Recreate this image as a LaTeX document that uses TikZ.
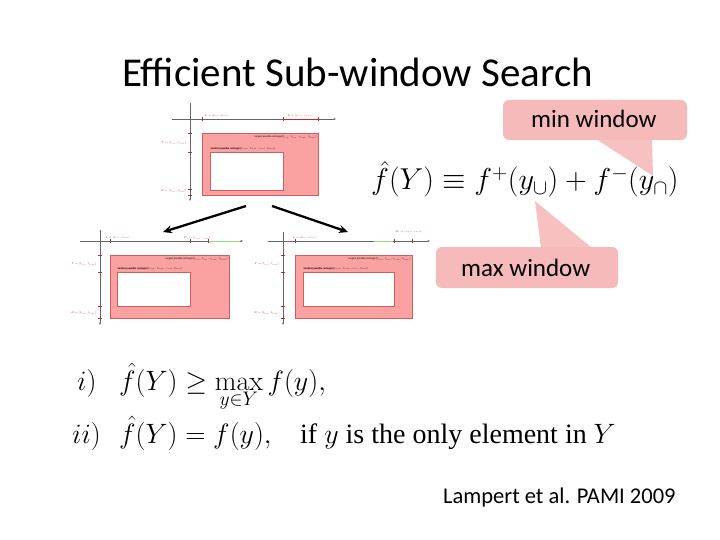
\RequirePackage{fix-cm}
\documentclass[tikz,border=0pt]{standalone}
\usepackage[no-math]{fontspec}
\setmainfont{Carlito}
\newfontfamily\timesf{Liberation Serif}
\usetikzlibrary{arrows.meta}
\definecolor{winred}{RGB}{250,162,162}
\definecolor{winedge}{RGB}{205,95,95}
\definecolor{callpink}{RGB}{246,186,186}
\definecolor{labred}{RGB}{190,40,40}
\definecolor{axgreen}{RGB}{150,220,120}
\tikzset{
  tinytext/.style={font=\fontsize{2.6}{3}\selectfont, inner sep=0.5pt},
  tinylab/.style={tinytext, text=labred},
  axisline/.style={draw=black!60, line width=0.5pt},
  bigred/.style={fill=winred, draw=winedge, line width=0.5pt},
  smallwhite/.style={fill=white, draw=winedge, line width=0.4pt},
  tickmark/.style={draw=labred, line width=0.4pt},
  splitarrow/.style={line width=2.3pt, -{Stealth[length=9pt,width=8pt]}},
  callbox/.style={fill=callpink, draw=none, rounded corners=6pt},
  calltext/.style={font=\fontsize{25}{30}\selectfont, inner sep=0pt, anchor=base west},
  mathline/.style={anchor=base west, inner sep=0pt, font=\fontsize{28}{34}\selectfont},
}
\begin{document}
\begin{tikzpicture}[x=1pt,y=-1pt]
\useasboundingbox (0,0) rectangle (720,540);

% title
\node[font=\fontsize{41}{48}\selectfont, anchor=base west, inner sep=0pt] (title) at (122,87) {Efficient Sub-window Search};

% ---------- top small diagram ----------
\begin{scope}[shift={(190,119)}]
  \draw[axisline, -{Stealth[length=2.5pt,width=2pt]}] (-18,0) -- (146,0);
  \draw[axisline, -{Stealth[length=2.5pt,width=2pt]}] (0,-16) -- (0,82);
  \draw[bigred] (12,14) rectangle (128,76);
  \draw[smallwhite] (20,33) rectangle (93,71);
  \node[tinytext, anchor=north east] (tl) at (127,16) {Largest possible rectangle [$l_{low},t_{low},r_{high},b_{high}$]};
  \node[tinytext, anchor=south west, font=\bfseries\fontsize{2.6}{3}\selectfont] (ts) at (20,32) {Smallest possible rectangle [$l_{high},t_{high},r_{low},b_{low}$]};
  \foreach \t in {12,93,128} \draw[tickmark] (\t,-2) -- (\t,2);
  \foreach \t in {14,33,70,76} \draw[tickmark] (-2,\t) -- (2,\t);
  \draw[labred, line width=0.4pt] (93,0) -- (128,0);
  \node[tinylab, anchor=south west] (tL) at (14,-1) {$L=[l_{low},l_{high}]$};
  \node[tinylab, anchor=south] (tR) at (110,-1) {$R=[r_{low},r_{high}]$};
  \node[tinylab, anchor=east] (tT) at (-3,24) {$T=[t_{low},t_{high}]$};
  \node[tinylab, anchor=east] (tB) at (-3,72) {$B=[b_{low},b_{high}]$};
\end{scope}

% ---------- bottom-left small diagram ----------
\begin{scope}[shift={(100,241)}]
  \draw[axisline, -{Stealth[length=2.5pt,width=2pt]}] (-20,0) -- (143,0);
  \draw[axisline, -{Stealth[length=2.5pt,width=2pt]}] (0,-11) -- (0,84);
  \draw[bigred] (10,14) rectangle (129,77);
  \draw[smallwhite] (17,31) rectangle (90,65);
  \node[tinytext, anchor=north east] (ll) at (128,16) {Largest possible rectangle [$l_{low},t_{low},r_{high},b_{high}$]};
  \node[tinytext, anchor=south west, font=\bfseries\fontsize{2.6}{3}\selectfont] (ls) at (17,30) {Smallest possible rectangle [$l_{high},t_{high},r_{low},b_{low}$]};
  \draw[axgreen, line width=1pt] (108,0) -- (140,0);
  \foreach \t in {10,90,108} \draw[tickmark] (\t,-2) -- (\t,2);
  \foreach \t in {14,31,65,77} \draw[tickmark] (-2,\t) -- (2,\t);
  \node[tinylab, anchor=south west] (lL) at (5,-1) {$L=[l_{low},l_{high}]$};
  \node[tinylab, anchor=south] (lR) at (97,-1) {$R_1=[r_{low},r_{mid}]$};
  \node[tinylab, anchor=east] (lT) at (-3,23) {$T=[t_{low},t_{high}]$};
  \node[tinylab, anchor=east] (lB) at (-3,72) {$B=[b_{low},b_{high}]$};
\end{scope}

% ---------- bottom-right small diagram ----------
\begin{scope}[shift={(283,241)}]
  \draw[axisline, -{Stealth[length=2.5pt,width=2pt]}] (-15,0) -- (147,0);
  \draw[axisline, -{Stealth[length=2.5pt,width=2pt]}] (0,-9) -- (0,84);
  \draw[bigred] (12,14) rectangle (129,77);
  \draw[smallwhite] (20,31) rectangle (111,65);
  \node[tinytext, anchor=north east] (rl) at (128,16) {Largest possible rectangle [$l_{low},t_{low},r_{high},b_{high}$]};
  \node[tinytext, anchor=south west, font=\bfseries\fontsize{2.6}{3}\selectfont] (rs) at (20,30) {Smallest possible rectangle [$l_{high},t_{high},r_{low},b_{low}$]};
  \draw[axgreen, line width=1pt] (91,0) -- (110,0);
  \foreach \t in {12,111,129} \draw[tickmark] (\t,-2) -- (\t,2);
  \foreach \t in {14,31,65,77} \draw[tickmark] (-2,\t) -- (2,\t);
  \node[tinylab, anchor=south west] (rL) at (9,-1) {$L=[l_{low},l_{high}]$};
  \node[tinylab, anchor=south] (rR) at (126,-7) {$R_2=[r_{mid},r_{high}]$};
  \node[tinylab, anchor=east] (rT) at (-3,23) {$T=[t_{low},t_{high}]$};
  \node[tinylab, anchor=east] (rB) at (-3,72) {$B=[b_{low},b_{high}]$};
\end{scope}

% split arrows
\coordinate (aL0) at (246,206);
\coordinate (aL1) at (163,232);
\coordinate (aR0) at (272,206);
\coordinate (aR1) at (348,232);
\draw[splitarrow] (aL0) -- (aL1);
\draw[splitarrow] (aR0) -- (aR1);

% bound formula
\node[anchor=base west, inner sep=0pt, font=\fontsize{30.2}{36}\selectfont] (bound) at (371,190)
  {$\hat f(Y)\equiv f^{+}(y_{\cup})+f^{-}(y_{\cap})$};

% callouts
\fill[callbox] (503,100) rectangle (687,140);
\fill[callpink, opacity=0.9] (596,139) -- (652,139) -- (653,176) -- cycle;
\node[calltext] (minw) at (531,128) {min window};

\fill[callbox] (436,247) rectangle (618,288);
\fill[callpink, opacity=0.9] (541,248) -- (592,248) -- (535,201) -- cycle;
\node[calltext] (maxw) at (461,276) {max window};

% conditions
\node[mathline] (c1n) at (77,390) {$i)$};
\node[mathline] (c1) at (119,390) {$\hat f(Y)\geq\displaystyle\max_{y\in Y} f(y),$};
\node[mathline] (c2n) at (72,443) {$ii)$};
\node[mathline] (c2) at (119,443) {$\hat f(Y)=f(y),$};
\node[mathline, font=\timesf\fontsize{28}{34}\selectfont] (c2t) at (300,443) {if $y$ is the only element in $Y$};

% reference
\node[anchor=base west, inner sep=0pt, font=\fontsize{22.5}{27}\selectfont] (ref) at (443,503) {Lampert et al. PAMI 2009};
\end{tikzpicture}
\end{document}
